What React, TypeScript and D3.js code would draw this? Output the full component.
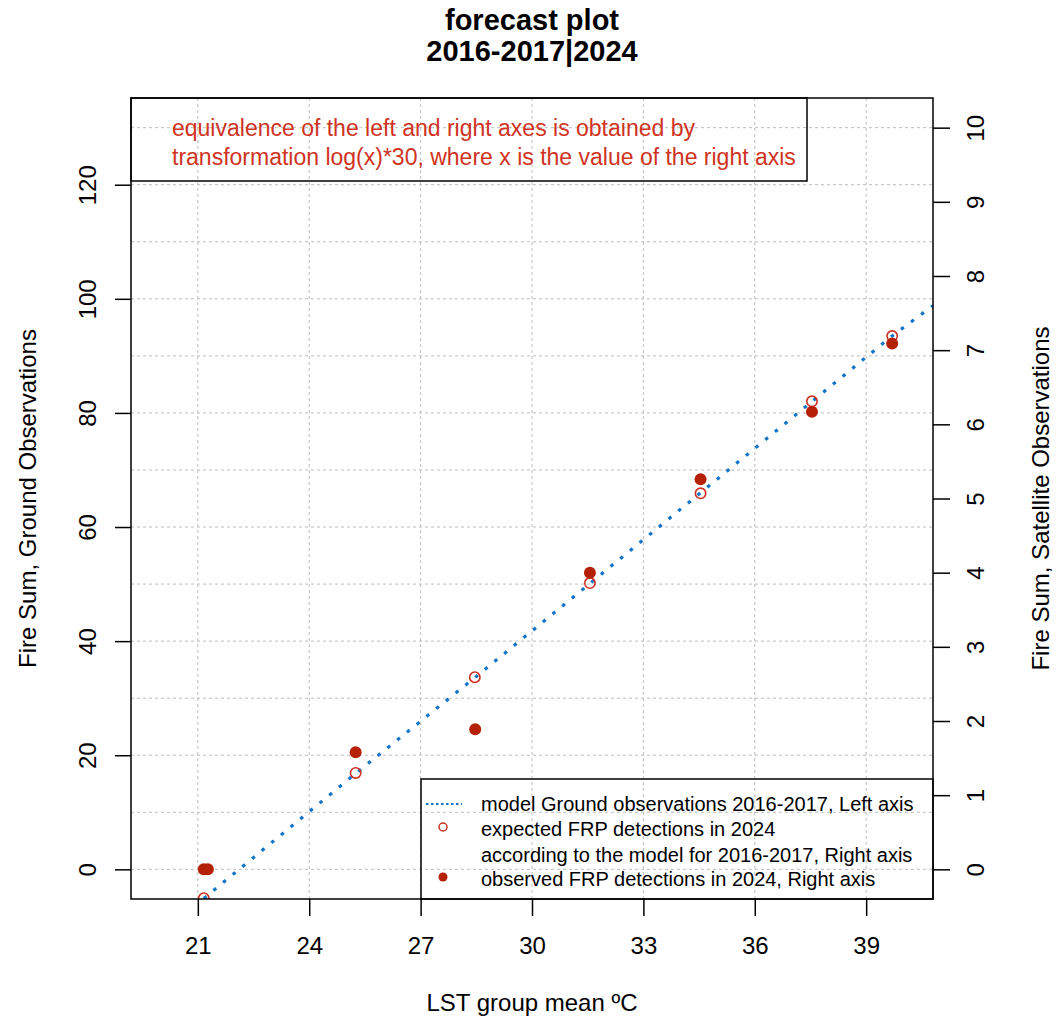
import React, { useEffect, useRef } from "react";
import * as d3 from "d3";

// group means of LST (x) and the values
const groupLST = [21.16, 25.25, 28.46, 31.56, 34.54, 37.54, 39.7];
const expectedFRP = [-0.39, 1.3, 2.59, 3.86, 5.07, 6.31, 7.19]; // right axis
const observedLST = [21.16, 21.27, 25.25, 28.47, 31.56, 34.54, 37.54, 39.7];
const observedFRP = [0, 0, 1.58, 1.89, 4.0, 5.26, 6.17, 7.09]; // right axis
const modelLST = [21.16, 25.25, 28.46, 31.56, 34.54, 37.54, 39.7, 40.8];
const modelGround = [-5.1, 16.8, 33.6, 50.1, 66.0, 82.0, 93.5, 98.8]; // left axis

const xTicks = [21, 24, 27, 30, 33, 36, 39];
const leftTicks = [0, 20, 40, 60, 80, 100, 120];
const rightTicks = [0, 1, 2, 3, 4, 5, 6, 7, 8, 9, 10];
const gridX = [21, 24, 27, 30, 33, 36, 39];
const gridY = [0, 10, 20, 30, 40, 50, 60, 70, 80, 90, 100, 110, 120, 130];

const noteLines = [
  "equivalence of the left and right axes is obtained by",
  "transformation log(x)*30, where x is the value of the right axis",
];
const legendLines = [
  "model Ground observations 2016-2017, Left axis",
  "expected FRP detections in 2024",
  "according to the model for 2016-2017, Right axis",
  "observed FRP detections in 2024, Right axis",
];

const FONT = "'Liberation Sans', Arial, sans-serif";
const BLUE = "#1474c8";
const RED_FILL = "#b42008";
const RED_OPEN = "#cc3020";
const RED_TEXT = "#cf3323";

const App = () => {
  const ref = useRef<SVGSVGElement | null>(null);

  useEffect(() => {
    const W = 1056, H = 1021;
    const left = 131, right = 933, top = 98, bottom = 899;

    const svg = d3.select(ref.current);
    svg.selectAll("*").remove();
    svg.attr("width", W).attr("height", H).style("font-family", FONT);

    // R style 4% padding
    const x = d3.scaleLinear().domain([19.2, 40.8]).range([left, right]);
    const yL = d3.scaleLinear().domain([-5.2, 135.2]).range([bottom, top]);
    const yR = d3.scaleLinear().domain([-0.4, 10.4]).range([bottom, top]);

    svg.append("defs").append("clipPath").attr("id", "plotclip")
      .append("rect").attr("x", left).attr("y", top)
      .attr("width", right - left).attr("height", bottom - top);

    // grid
    const grid = svg.append("g").attr("stroke", "#bdbdbd").attr("stroke-width", 1)
      .attr("stroke-dasharray", "3,3");
    grid.selectAll("line.gx").data(gridX).enter().append("line")
      .attr("x1", d => x(d)).attr("x2", d => x(d)).attr("y1", top).attr("y2", bottom);
    grid.selectAll("line.gy").data(gridY).enter().append("line")
      .attr("x1", left).attr("x2", right).attr("y1", d => yL(d)).attr("y2", d => yL(d));

    const plot = svg.append("g").attr("clip-path", "url(#plotclip)");

    // model line
    const line = d3.line<number>()
      .x((d, i) => x(modelLST[i]))
      .y(d => yL(d));
    plot.append("path")
      .attr("d", line(modelGround))
      .attr("fill", "none")
      .attr("stroke", BLUE)
      .attr("stroke-width", 3.2)
      .attr("stroke-dasharray", "3.5,9");

    // expected (open) points
    plot.selectAll("circle.exp").data(expectedFRP).enter().append("circle")
      .attr("cx", (d, i) => x(groupLST[i]))
      .attr("cy", d => yR(d))
      .attr("r", 5.2)
      .attr("fill", "none")
      .attr("stroke", RED_OPEN)
      .attr("stroke-width", 1.6);

    // observed (filled) points
    plot.selectAll("circle.obs").data(observedFRP).enter().append("circle")
      .attr("cx", (d, i) => x(observedLST[i]))
      .attr("cy", d => yR(d))
      .attr("r", 6)
      .attr("fill", RED_FILL);

    // axes
    const styleAxis = (g: any, dx: number, dy: number, rotate: boolean) => {
      g.select(".domain").remove();
      g.selectAll(".tick line").attr("stroke", "#000").attr("stroke-width", 1.5);
      const t = g.selectAll(".tick text")
        .attr("fill", "#000")
        .attr("font-size", 24)
        .attr("font-family", FONT)
        .attr("text-anchor", "middle")
        .attr("x", 0).attr("y", 0).attr("dy", "0.35em");
      if (rotate) t.attr("transform", `translate(${dx},${dy}) rotate(-90)`);
      else t.attr("transform", `translate(${dx},${dy})`);
    };

    svg.append("g").attr("transform", `translate(0,${bottom})`)
      .call(d3.axisBottom(x).tickValues(xTicks).tickSize(17).tickFormat(d3.format("d")))
      .call((g: any) => styleAxis(g, 0, 47, false));

    svg.append("g").attr("transform", `translate(${left},0)`)
      .call(d3.axisLeft(yL).tickValues(leftTicks).tickSize(16).tickFormat(d3.format("d")))
      .call((g: any) => styleAxis(g, -43, 0, true));

    svg.append("g").attr("transform", `translate(${right},0)`)
      .call(d3.axisRight(yR).tickValues(rightTicks).tickSize(17).tickFormat(d3.format("d")))
      .call((g: any) => styleAxis(g, 43, 0, true));

    // plot box
    svg.append("rect")
      .attr("x", left).attr("y", top).attr("width", right - left).attr("height", bottom - top)
      .attr("fill", "none").attr("stroke", "#000").attr("stroke-width", 1.5);

    // titles
    const title = svg.append("text").attr("text-anchor", "middle")
      .attr("font-weight", "bold").attr("font-size", 29).attr("fill", "#000");
    title.append("tspan").attr("x", (left + right) / 2).attr("y", 30).text("forecast plot");
    title.append("tspan").attr("x", (left + right) / 2).attr("y", 61).text("2016-2017|2024");

    svg.append("text").attr("x", (left + right) / 2).attr("y", 1003).attr("dy", "0.35em")
      .attr("text-anchor", "middle").attr("font-size", 24).text("LST group mean ºC");

    const cy = (top + bottom) / 2;
    svg.append("text").attr("transform", `translate(28,${cy}) rotate(-90)`)
      .attr("dy", "0.35em").attr("text-anchor", "middle").attr("font-size", 24)
      .text("Fire Sum, Ground Observations");
    svg.append("text").attr("transform", `translate(1041,${cy}) rotate(-90)`)
      .attr("dy", "0.35em").attr("text-anchor", "middle").attr("font-size", 24)
      .text("Fire Sum, Satellite Observations");

    // note box
    svg.append("rect").attr("x", left).attr("y", top).attr("width", 807 - left).attr("height", 181 - top)
      .attr("fill", "none").attr("stroke", "#000").attr("stroke-width", 1.5);
    svg.selectAll("text.note").data(noteLines).enter().append("text")
      .attr("x", 172).attr("y", (d, i) => 128 + i * 29).attr("dy", "0.35em")
      .attr("font-size", 23).attr("fill", RED_TEXT).text(d => d);

    // legend
    const lg = svg.append("g");
    lg.append("rect").attr("x", 421).attr("y", 779).attr("width", right - 421).attr("height", bottom - 779)
      .attr("fill", "none").attr("stroke", "#000").attr("stroke-width", 1.5);
    const rowY = [804, 829, 855, 879];
    lg.selectAll("text").data(legendLines).enter().append("text")
      .attr("x", 481).attr("y", (d, i) => rowY[i]).attr("dy", "0.35em")
      .attr("font-size", 20).attr("fill", "#000").text(d => d);
    lg.append("line").attr("x1", 426).attr("x2", 462).attr("y1", rowY[0]).attr("y2", rowY[0])
      .attr("stroke", BLUE).attr("stroke-width", 1.8).attr("stroke-dasharray", "2.5,2.5");
    lg.append("circle").attr("cx", 443).attr("cy", rowY[1] - 2).attr("r", 4)
      .attr("fill", "none").attr("stroke", RED_OPEN).attr("stroke-width", 1.5);
    lg.append("circle").attr("cx", 443).attr("cy", rowY[3] - 2).attr("r", 4.5)
      .attr("fill", RED_FILL);
  }, []);

  return (
    <svg ref={ref} style={{ position: "absolute", left: 0, top: 0, background: "#fff" }} />
  );
};

export default App;
